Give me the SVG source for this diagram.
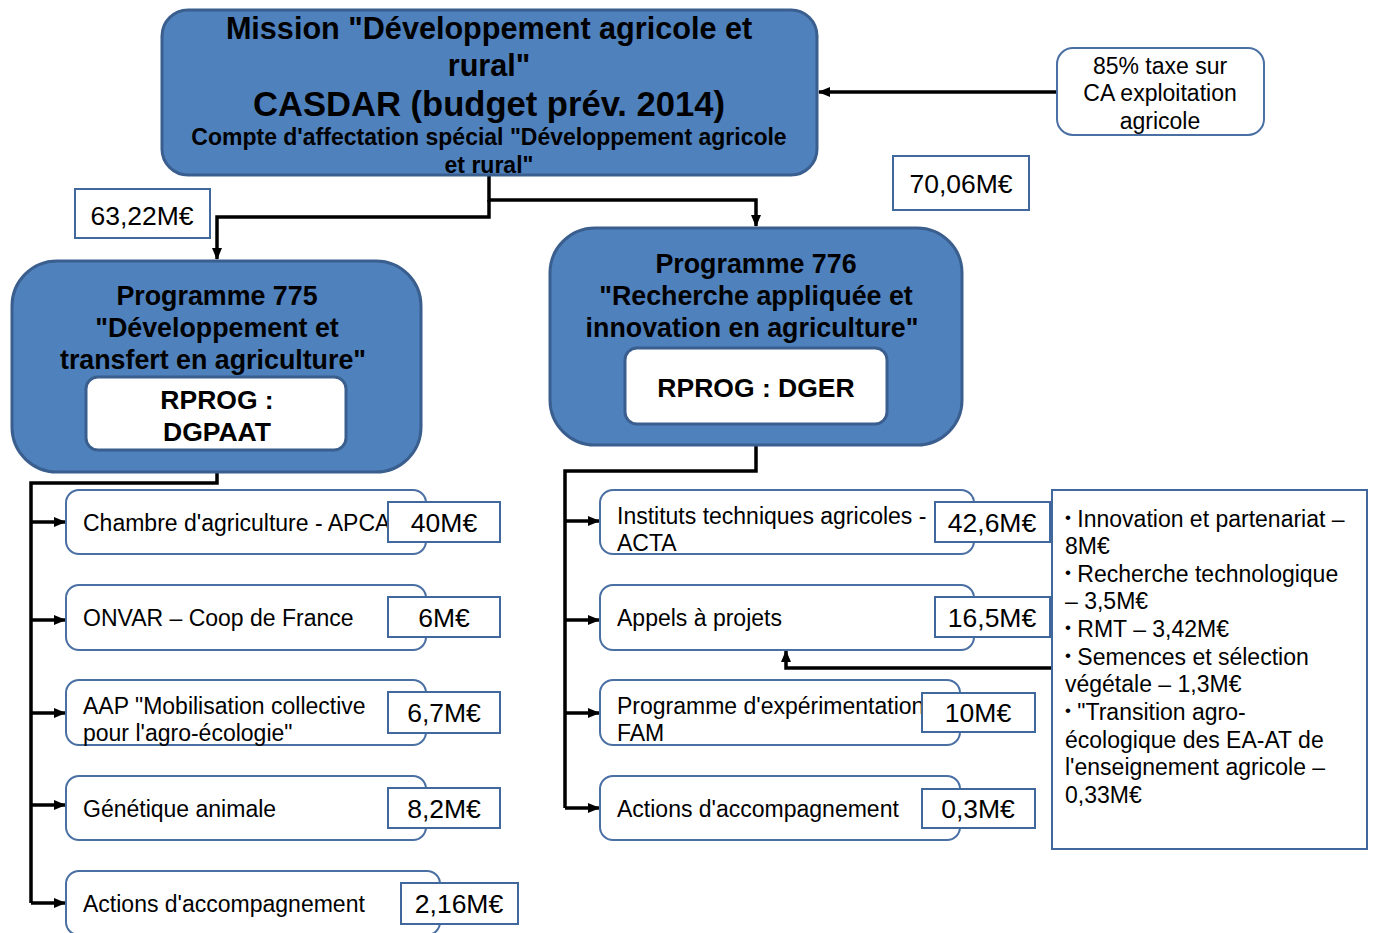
<svg xmlns="http://www.w3.org/2000/svg" width="1373" height="933" viewBox="0 0 1373 933">
<defs>
<marker id="ah" markerUnits="userSpaceOnUse" markerWidth="12" markerHeight="12" viewBox="0 0 12 12" refX="11" refY="6" orient="auto">
<path d="M0,1 L12,6 L0,11 Z" fill="#000"/>
</marker>
</defs>
<style>
.blue{fill:#4f81bd;stroke:#3a5f8f;stroke-width:3}
.inner{fill:#fff;stroke:#3a5f8f;stroke-width:3}
.item{fill:#fff;stroke:#4a6fa3;stroke-width:2}
.amt{fill:#fff;stroke:#41689c;stroke-width:2}
.b{font-family:"Liberation Sans",Arial,sans-serif;font-weight:bold;fill:#000;text-anchor:middle}
.t{font-family:"Liberation Sans",Arial,sans-serif;font-size:23px;fill:#000}
.a{font-family:"Liberation Sans",Arial,sans-serif;font-size:26.5px;fill:#000;text-anchor:middle}
.c{fill:none;stroke:#000;stroke-width:3.5}
.bl{font-size:17px}
</style>
<rect width="1373" height="933" fill="#fff"/>

<g id="connectors">
<path class="c" d="M1057,92 H819" marker-end="url(#ah)"/>
<path class="c" d="M489,175 V200 H756 V226" marker-end="url(#ah)"/>
<path class="c" d="M489,200 V217 H217 V259" marker-end="url(#ah)"/>
<path class="c" d="M217,472 V483 H31 V903"/>
<path class="c" d="M31,522 H65" marker-end="url(#ah)"/>
<path class="c" d="M31,620 H65" marker-end="url(#ah)"/>
<path class="c" d="M31,713 H65" marker-end="url(#ah)"/>
<path class="c" d="M31,805 H65" marker-end="url(#ah)"/>
<path class="c" d="M31,903 H65" marker-end="url(#ah)"/>
<path class="c" d="M756,445 V471 H565 V808"/>
<path class="c" d="M565,521 H599" marker-end="url(#ah)"/>
<path class="c" d="M565,620 H599" marker-end="url(#ah)"/>
<path class="c" d="M565,713 H599" marker-end="url(#ah)"/>
<path class="c" d="M565,808 H599" marker-end="url(#ah)"/>
<path class="c" d="M1052,668 H786 V651" marker-end="url(#ah)"/>
</g>

<g id="mission">
<rect class="blue" x="162" y="10" width="655" height="165" rx="26"/>
<text class="b" x="489" y="39" font-size="30.6">Mission "Développement agricole et</text>
<text class="b" x="489" y="76" font-size="30.6">rural"</text>
<text class="b" x="489" y="116" font-size="34.6">CASDAR (budget prév. 2014)</text>
<text class="b" x="489" y="145" font-size="23">Compte d'affectation spécial "Développement agricole</text>
<text class="b" x="489" y="173" font-size="23">et rural"</text>
</g>

<g id="taxe">
<rect class="item" x="1057" y="48" width="207" height="87" rx="16"/>
<text class="t" text-anchor="middle" x="1160" y="74">85% taxe sur</text>
<text class="t" text-anchor="middle" x="1160" y="101">CA exploitation</text>
<text class="t" text-anchor="middle" x="1160" y="129">agricole</text>
</g>

<g id="amt7006">
<rect class="amt" x="893" y="156" width="136" height="54"/>
<text class="a" x="961" y="193">70,06M€</text>
</g>
<g id="amt6322">
<rect class="amt" x="75" y="189" width="135" height="49"/>
<text class="a" x="142" y="225">63,22M€</text>
</g>

<g id="prog775">
<rect class="blue" x="12" y="261" width="409" height="211" rx="45"/>
<text class="b" x="217" y="305" font-size="26.8">Programme 775</text>
<text class="b" x="217" y="337" font-size="26.8">"Développement et</text>
<text class="b" x="213" y="369" font-size="26.8">transfert en agriculture"</text>
<rect class="inner" x="86" y="377" width="260" height="73" rx="12"/>
<text class="b" x="217" y="409" font-size="26.5">RPROG :</text>
<text class="b" x="217" y="441" font-size="26.5">DGPAAT</text>
</g>

<g id="prog776">
<rect class="blue" x="550" y="228" width="412" height="217" rx="45"/>
<text class="b" x="756" y="273" font-size="26.8">Programme 776</text>
<text class="b" x="756" y="305" font-size="26.8">"Recherche appliquée et</text>
<text class="b" x="752" y="337" font-size="26.8">innovation en agriculture"</text>
<rect class="inner" x="625" y="348" width="262" height="76" rx="12"/>
<text class="b" x="756" y="397" font-size="26.5">RPROG : DGER</text>
</g>

<g id="apca">
<rect class="item" x="66" y="490" width="360" height="64" rx="13"/>
<text class="t" x="83" y="531">Chambre d'agriculture - APCA</text>
<rect class="amt" x="388" y="502" width="112" height="40"/>
<text class="a" x="444" y="532">40M€</text>
</g>
<g id="onvar">
<rect class="item" x="66" y="585" width="360" height="65" rx="13"/>
<text class="t" x="83" y="626">ONVAR – Coop de France</text>
<rect class="amt" x="388" y="597" width="112" height="40"/>
<text class="a" x="444" y="627">6M€</text>
</g>
<g id="aap">
<rect class="item" x="66" y="680" width="360" height="65" rx="13"/>
<text class="t" x="83" y="714">AAP "Mobilisation collective</text>
<text class="t" x="83" y="741">pour l'agro-écologie"</text>
<rect class="amt" x="388" y="692" width="112" height="41"/>
<text class="a" x="444" y="722">6,7M€</text>
</g>
<g id="genetique">
<rect class="item" x="66" y="776" width="360" height="64" rx="13"/>
<text class="t" x="83" y="817">Génétique animale</text>
<rect class="amt" x="388" y="788" width="112" height="40"/>
<text class="a" x="444" y="818">8,2M€</text>
</g>
<g id="actions775">
<rect class="item" x="66" y="871" width="374" height="64" rx="13"/>
<text class="t" x="83" y="912">Actions d'accompagnement</text>
<rect class="amt" x="401" y="883" width="117" height="41"/>
<text class="a" x="459" y="913">2,16M€</text>
</g>

<g id="acta">
<rect class="item" x="600" y="490" width="374" height="64" rx="13"/>
<text class="t" x="617" y="524">Instituts techniques agricoles -</text>
<text class="t" x="617" y="551">ACTA</text>
<rect class="amt" x="935" y="502" width="115" height="40"/>
<text class="a" x="992" y="532">42,6M€</text>
</g>
<g id="appels">
<rect class="item" x="600" y="585" width="374" height="65" rx="13"/>
<text class="t" x="617" y="626">Appels à projets</text>
<rect class="amt" x="935" y="597" width="115" height="40"/>
<text class="a" x="992" y="627">16,5M€</text>
</g>
<g id="fam">
<rect class="item" x="600" y="680" width="360" height="65" rx="13"/>
<text class="t" x="617" y="714">Programme d'expérimentation</text>
<text class="t" x="617" y="741">FAM</text>
<rect class="amt" x="922" y="693" width="113" height="39"/>
<text class="a" x="978" y="722">10M€</text>
</g>
<g id="actions776">
<rect class="item" x="600" y="776" width="360" height="64" rx="13"/>
<text class="t" x="617" y="817">Actions d'accompagnement</text>
<rect class="amt" x="922" y="789" width="113" height="39"/>
<text class="a" x="978" y="818">0,3M€</text>
</g>

<g id="details">
<rect class="amt" x="1052" y="490" width="315" height="359"/>
<text class="t" x="1065" y="527"><tspan class="bl" dy="-4">•</tspan><tspan dy="4"> Innovation et partenariat –</tspan></text>
<text class="t" x="1065" y="554">8M€</text>
<text class="t" x="1065" y="582"><tspan class="bl" dy="-4">•</tspan><tspan dy="4"> Recherche technologique</tspan></text>
<text class="t" x="1065" y="609">– 3,5M€</text>
<text class="t" x="1065" y="637"><tspan class="bl" dy="-4">•</tspan><tspan dy="4"> RMT – 3,42M€</tspan></text>
<text class="t" x="1065" y="665"><tspan class="bl" dy="-4">•</tspan><tspan dy="4"> Semences et sélection</tspan></text>
<text class="t" x="1065" y="692">végétale – 1,3M€</text>
<text class="t" x="1065" y="720"><tspan class="bl" dy="-4">•</tspan><tspan dy="4"> "Transition agro-</tspan></text>
<text class="t" x="1065" y="748">écologique des EA-AT de</text>
<text class="t" x="1065" y="775">l'enseignement agricole –</text>
<text class="t" x="1065" y="803">0,33M€</text>
</g>
</svg>
